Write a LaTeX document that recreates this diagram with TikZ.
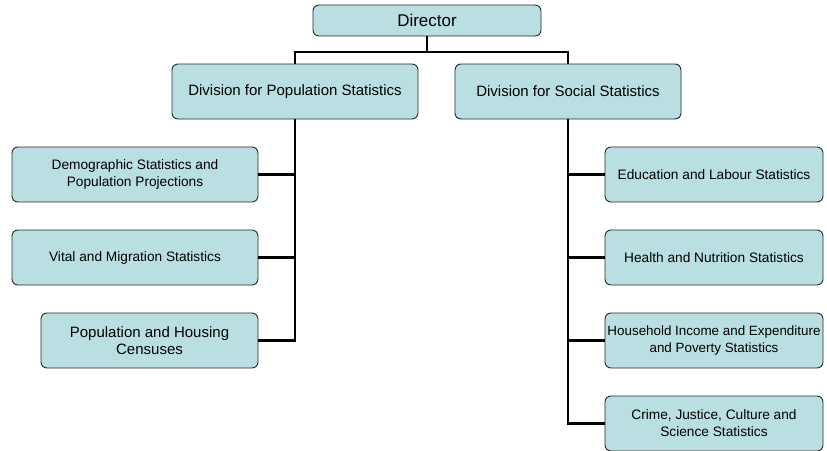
\documentclass[tikz,border=0pt]{standalone}
\usepackage{fontspec}
\setmainfont{Liberation Sans}
\definecolor{boxfill}{RGB}{185,223,226}
\definecolor{boxline}{RGB}{40,40,40}
\tikzset{
  box/.style={draw=boxline, line width=0.9pt, fill=boxfill, rounded corners=6pt,
    inner sep=0pt, align=center, font=\fontsize{13.7}{17}\selectfont},
  conn/.style={line width=2.8pt, draw=black},
}
\begin{document}
\begin{tikzpicture}[x=1pt,y=-1pt]
\useasboundingbox (0,0) rectangle (827,450);
\node[box, minimum width=228pt, minimum height=31pt, font=\fontsize{17}{20}\selectfont] (dir) at (427,20.5) {Director};
\node[box, minimum width=246pt, minimum height=55pt, font=\fontsize{15}{18}\selectfont] (dps) at (295,91.5) {Division for Population Statistics};
\node[box, minimum width=226pt, minimum height=55pt, font=\fontsize{15}{18}\selectfont] (dss) at (568,91.5) {Division for Social Statistics};
\node[box, minimum width=246pt, minimum height=55pt] (dem) at (135,174.5) {Demographic Statistics and\\Population Projections};
\node[box, minimum width=246pt, minimum height=55pt] (vit) at (135,257.5) {Vital and Migration Statistics};
\node[box, minimum width=217pt, minimum height=55pt, font=\fontsize{15}{17.5}\selectfont] (phc) at (149.5,340.5) {Population and Housing\\Censuses};
\node[box, minimum width=218pt, minimum height=55pt] (edu) at (714,174.5) {Education and Labour Statistics};
\node[box, minimum width=218pt, minimum height=55pt] (hea) at (714,257.5) {Health and Nutrition Statistics};
\node[box, minimum width=218pt, minimum height=55pt, font=\fontsize{13.4}{17}\selectfont] (hou) at (714,340.5) {Household Income and Expenditure\\and Poverty Statistics};
\node[box, minimum width=218pt, minimum height=55pt] (cri) at (714,423.5) {Crime, Justice, Culture and\\Science Statistics};
\coordinate (bar) at (427,52);
\draw[conn] (dir.south) -- (bar);
\draw[conn] (dps.north) |- (bar) -| (dss.north);
\draw[conn] (dps.south) |- (phc.east);
\draw[conn] (dem.east) -- (dem.east -| dps.south);
\draw[conn] (vit.east) -- (vit.east -| dps.south);
\draw[conn] (dss.south) |- (cri.west);
\draw[conn] (edu.west) -- (edu.west -| dss.south);
\draw[conn] (hea.west) -- (hea.west -| dss.south);
\draw[conn] (hou.west) -- (hou.west -| dss.south);
\end{tikzpicture}
\end{document}
